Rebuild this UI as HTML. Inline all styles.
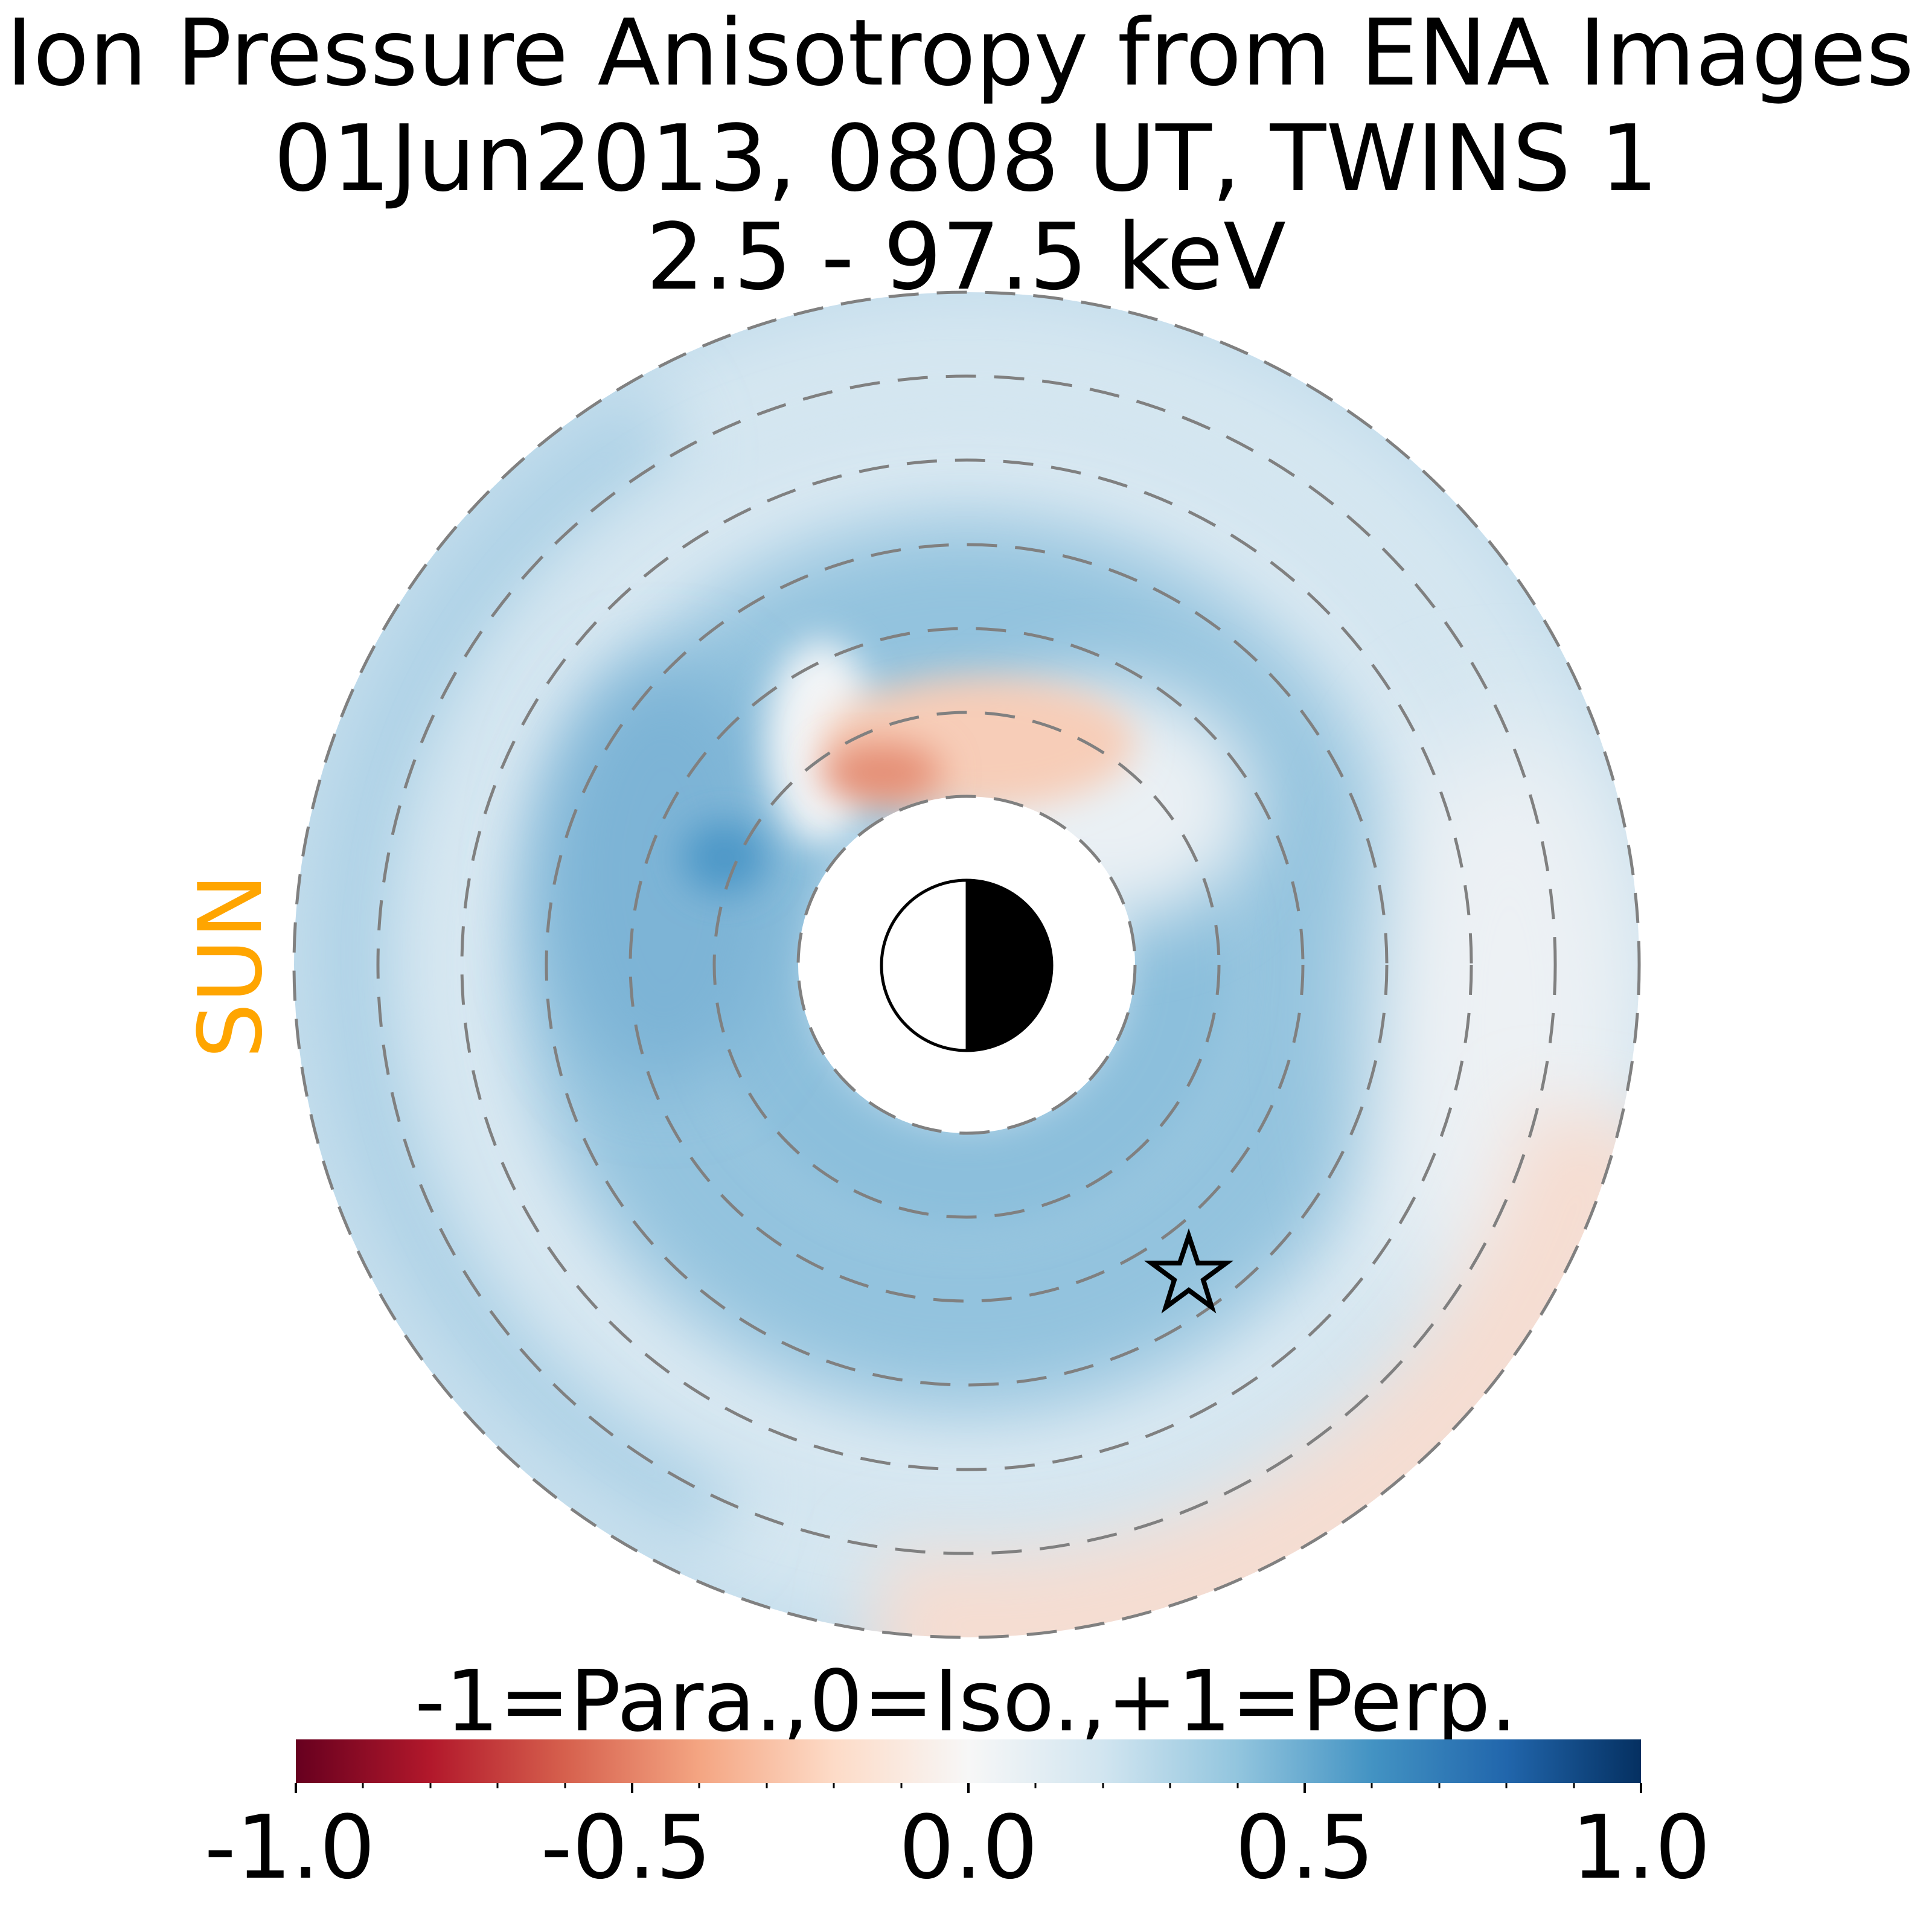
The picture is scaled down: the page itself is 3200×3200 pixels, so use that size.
<!DOCTYPE html>
<html><head><style>
html,body{margin:0;padding:0;background:#fff;}
svg{display:block;}
</style></head><body>
<svg width="3200" height="3200" viewBox="0 0 3200 3200" xmlns="http://www.w3.org/2000/svg" font-family="'DejaVu Sans','Liberation Sans',sans-serif">
<defs>
<filter id="b1" x="-50%" y="-50%" width="200%" height="200%"><feGaussianBlur stdDeviation="60"/></filter>
<filter id="b2" x="-50%" y="-50%" width="200%" height="200%"><feGaussianBlur stdDeviation="30"/></filter>
<filter id="b3" x="-50%" y="-50%" width="200%" height="200%"><feGaussianBlur stdDeviation="90"/></filter>
<mask id="ann">
<circle cx="1601" cy="1598" r="1114" fill="#fff"/>
<circle cx="1601" cy="1598" r="279" fill="#000"/>
</mask>
<linearGradient id="cb" x1="0" x2="1" y1="0" y2="0">
<stop offset="0" stop-color="#67001f"/><stop offset="0.1" stop-color="#b2182b"/>
<stop offset="0.2" stop-color="#d6604d"/><stop offset="0.3" stop-color="#f4a582"/>
<stop offset="0.4" stop-color="#fddbc7"/><stop offset="0.5" stop-color="#f7f7f7"/>
<stop offset="0.6" stop-color="#d1e5f0"/><stop offset="0.7" stop-color="#92c5de"/>
<stop offset="0.8" stop-color="#4393c3"/><stop offset="0.9" stop-color="#2166ac"/>
<stop offset="1" stop-color="#053061"/>
</linearGradient>
</defs>
<text x="1590" y="140" font-size="152" text-anchor="middle">Ion Pressure Anisotropy from  ENA Images</text>
<text x="1600" y="315" font-size="152" text-anchor="middle">01Jun2013, 0808 UT,  TWINS 1</text>
<text x="1600" y="478" font-size="152" text-anchor="middle">2.5 - 97.5 keV</text>

<g mask="url(#ann)">
<rect x="400" y="400" width="2400" height="2400" fill="#c2dcec"/>
<circle cx="1601" cy="1598" r="1000" fill="none" stroke="#d6e7f1" stroke-width="200" filter="url(#b1)"/>
<path d="M1100 700 A1000 1000 0 0 0 1200 2500" fill="none" stroke="#a9cfe5" stroke-width="140" filter="url(#b1)"/>
<circle cx="1601" cy="1598" r="830" fill="none" stroke="#deebf3" stroke-width="130" filter="url(#b1)"/>
<circle cx="1601" cy="1598" r="560" fill="none" stroke="#93c3de" stroke-width="320" filter="url(#b1)"/>
<circle cx="1601" cy="1598" r="360" fill="none" stroke="#8cbfdc" stroke-width="180" filter="url(#b2)"/>
<ellipse cx="1100" cy="1450" rx="200" ry="350" fill="#7db4d6" filter="url(#b1)"/>
<ellipse cx="1200" cy="1420" rx="70" ry="60" fill="#4e98c8" filter="url(#b2)"/>
<ellipse cx="2500" cy="1700" rx="220" ry="500" fill="#edf1f4" filter="url(#b3)"/>
<path d="M1450 2680 A1050 1050 0 0 0 2650 1850" fill="none" stroke="#f6ddd1" stroke-width="240" filter="url(#b1)"/>
<ellipse cx="1830" cy="1330" rx="250" ry="200" fill="#eaf0f4" filter="url(#b1)"/>
<ellipse cx="1360" cy="1230" rx="90" ry="170" fill="#f3f5f7" filter="url(#b2)"/>
<ellipse cx="1620" cy="1230" rx="260" ry="110" fill="#f7cdb8" filter="url(#b2)"/>
<ellipse cx="1460" cy="1280" rx="100" ry="50" fill="#e58e74" filter="url(#b2)"/>
</g>

<g fill="none" stroke="#808080" stroke-width="5" stroke-dasharray="50 30">
<circle cx="1601" cy="1598" r="279"/>
<circle cx="1601" cy="1598" r="418"/>
<circle cx="1601" cy="1598" r="557"/>
<circle cx="1601" cy="1598" r="696"/>
<circle cx="1601" cy="1598" r="836"/>
<circle cx="1601" cy="1598" r="975"/>
<circle cx="1601" cy="1598" r="1114"/>
</g>
<path d="M1601 1458 A141 141 0 0 1 1601 1740 Z" fill="#000"/>
<circle cx="1601" cy="1599" r="141" fill="none" stroke="#000" stroke-width="5"/>
<line x1="1601" y1="1458" x2="1601" y2="1740" stroke="#000" stroke-width="3"/>

<polygon points="1969,2047 1984,2092 2031,2092 1993,2120 2007,2165 1969,2137 1931,2165 1945,2120 1907,2092 1954,2092" fill="none" stroke="#000" stroke-width="8" stroke-linejoin="miter"/>

<text x="0" y="0" font-size="145" fill="#ffa500" text-anchor="middle" transform="translate(432,1600) rotate(-90)">SUN</text>

<text x="1600" y="2866" font-size="140" text-anchor="middle">-1=Para.,0=Iso.,+1=Perp.</text>
<rect x="490" y="2881" width="2228" height="72" fill="url(#cb)"/>
<g stroke="#000" stroke-width="4">
<line x1="490" y1="2953" x2="490" y2="2970"/><line x1="1047" y1="2953" x2="1047" y2="2970"/>
<line x1="1604" y1="2953" x2="1604" y2="2970"/><line x1="2161" y1="2953" x2="2161" y2="2970"/>
<line x1="2718" y1="2953" x2="2718" y2="2970"/>
</g>
<g stroke="#000" stroke-width="3">
<line x1="601" y1="2953" x2="601" y2="2962"/><line x1="713" y1="2953" x2="713" y2="2962"/>
<line x1="824" y1="2953" x2="824" y2="2962"/><line x1="936" y1="2953" x2="936" y2="2962"/>
<line x1="1158" y1="2953" x2="1158" y2="2962"/><line x1="1270" y1="2953" x2="1270" y2="2962"/>
<line x1="1381" y1="2953" x2="1381" y2="2962"/><line x1="1493" y1="2953" x2="1493" y2="2962"/>
<line x1="1715" y1="2953" x2="1715" y2="2962"/><line x1="1827" y1="2953" x2="1827" y2="2962"/>
<line x1="1938" y1="2953" x2="1938" y2="2962"/><line x1="2050" y1="2953" x2="2050" y2="2962"/>
<line x1="2272" y1="2953" x2="2272" y2="2962"/><line x1="2384" y1="2953" x2="2384" y2="2962"/>
<line x1="2495" y1="2953" x2="2495" y2="2962"/><line x1="2607" y1="2953" x2="2607" y2="2962"/>
</g>
<g font-size="145" text-anchor="middle">
<text x="480" y="3110">-1.0</text><text x="1037" y="3110">-0.5</text>
<text x="1604" y="3110">0.0</text><text x="2161" y="3110">0.5</text>
<text x="2718" y="3110">1.0</text>
</g>
</svg>
</body></html>
